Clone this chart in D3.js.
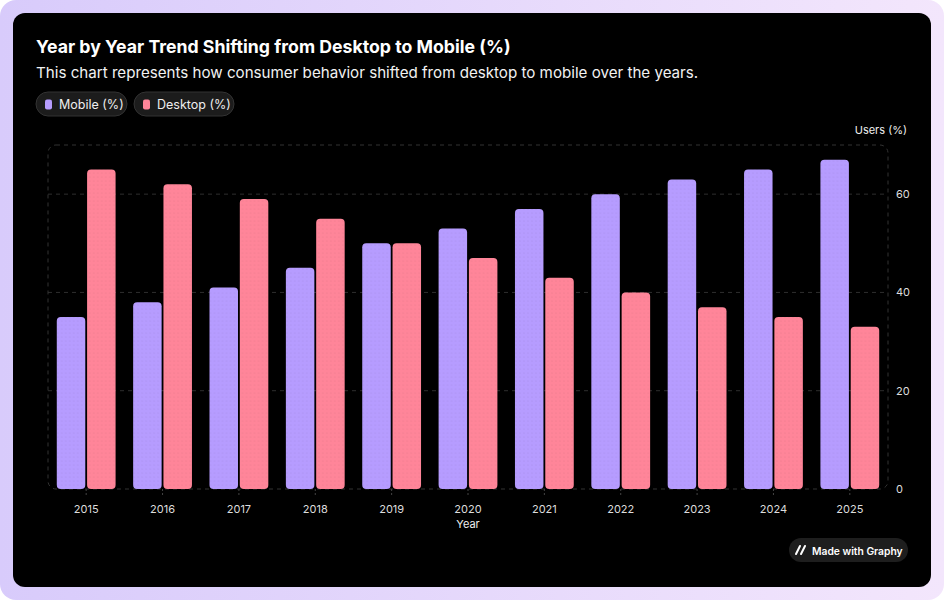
<!DOCTYPE html>
<html>
<head>
<meta charset="utf-8">
<script src="https://cdn.jsdelivr.net/npm/d3@7"></script>
<style>
  html, body { margin: 0; padding: 0; }
  body { width: 944px; height: 600px; overflow: hidden; font-family: Inter, "Noto Sans", sans-serif; }
</style>
</head>
<body>
<div id="chart"></div>
<script>
// chart data
var years = ["2015", "2016", "2017", "2018", "2019", "2020", "2021", "2022", "2023", "2024", "2025"];
var mobile = [35, 38, 41, 45, 50, 53, 57, 60, 63, 65, 67];
var desktop = [65, 62, 59, 55, 50, 47, 43, 40, 37, 35, 33];
var seriesNames = ["Mobile (%)", "Desktop (%)"];
var seriesColors = ["#b69cff", "#ff8599"];
var yTicks = [0, 20, 40, 60];

var W = 944, H = 600;
var plot = {left: 48, right: 888, top: 145, bottom: 489};

var svg = d3.select("#chart").append("svg")
      .attr("width", W)
      .attr("height", H);

var defs = svg.append("defs");
var bg = defs.append("linearGradient").attr("id", "frameGrad")
      .attr("x1", "0").attr("x2", "1").attr("y1", "0").attr("y2", "0");
bg.append("stop").attr("offset", "0").attr("stop-color", "#d8cbfb");
bg.append("stop").attr("offset", "1").attr("stop-color", "#f3e6fc");

// subtle dotted texture on the bars
seriesColors.forEach(function (c, i) {
      var p = defs.append("pattern").attr("id", "tex" + i)
            .attr("width", 4).attr("height", 4)
            .attr("patternUnits", "userSpaceOnUse");
      p.append("rect").attr("width", 4).attr("height", 4).attr("fill", c);
      p.append("circle").attr("cx", 1).attr("cy", 1).attr("r", 0.6)
            .attr("fill", d3.color(c).darker(0.25));
});

// outer frame + black card
svg.append("rect").attr("width", W).attr("height", H).attr("rx", 16).attr("fill", "url(#frameGrad)");
svg.append("rect").attr("x", 13).attr("y", 13).attr("width", 918).attr("height", 574)
      .attr("rx", 12).attr("fill", "#000");

// titles
svg.append("text").attr("x", 36).attr("y", 53)
      .attr("fill", "#fff").attr("font-size", 17.7).attr("font-weight", 700)
      .text("Year by Year Trend Shifting from Desktop to Mobile (%)");
svg.append("text").attr("x", 36).attr("y", 78)
      .attr("fill", "#f2f2f2").attr("font-size", 15.15)
      .text("This chart represents how consumer behavior shifted from desktop to mobile over the years.");

// legend pills
var legX = [36, 134], legW = [91, 100];
seriesNames.forEach(function (name, i) {
      var g = svg.append("g").attr("transform", "translate(" + legX[i] + ",92)");
      g.append("rect").attr("width", legW[i]).attr("height", 24).attr("rx", 12)
            .attr("fill", "#1c1c1c").attr("stroke", "#333").attr("stroke-width", 1);
      g.append("rect").attr("x", 9).attr("y", 7.5).attr("width", 7).attr("height", 10).attr("rx", 2)
            .attr("fill", seriesColors[i]);
      g.append("text").attr("x", 23).attr("y", 16.5).attr("fill", "#eee").attr("font-size", 12.5).text(name);
});

// scales
var x0 = d3.scaleBand().domain(years).range([plot.left, plot.right]).paddingInner(0.23).paddingOuter(0.115);
var x1 = d3.scaleBand().domain([0, 1]).range([0, x0.bandwidth()]).paddingInner(0.06);
var y = d3.scaleLinear().domain([0, 70]).range([plot.bottom, plot.top]);

// grid
svg.append("g").selectAll("line").data(yTicks.filter(function (d) { return d > 0; })).enter()
      .append("line")
      .attr("x1", plot.left).attr("x2", plot.right)
      .attr("y1", function (d) { return y(d); }).attr("y2", function (d) { return y(d); })
      .attr("stroke", "#2e2e2e").attr("stroke-dasharray", "4,4");
svg.append("rect").attr("x", plot.left).attr("y", plot.top)
      .attr("width", plot.right - plot.left).attr("height", plot.bottom - plot.top)
      .attr("rx", 8).attr("fill", "none").attr("stroke", "#333").attr("stroke-dasharray", "4,4");

// bars
var groups = svg.append("g").selectAll("g").data(years).enter().append("g")
      .attr("transform", function (d) { return "translate(" + x0(d) + ",0)"; });
groups.selectAll("rect")
      .data(function (d, i) { return [mobile[i], desktop[i]]; })
      .enter().append("rect")
      .attr("x", function (d, j) { return x1(j); })
      .attr("y", function (d) { return y(d); })
      .attr("width", x1.bandwidth())
      .attr("height", function (d) { return y(0) - y(d); })
      .attr("rx", 4)
      .attr("fill", function (d, j) { return "url(#tex" + j + ")"; });

// x axis
var xAxis = svg.append("g").attr("transform", "translate(0," + plot.bottom + ")")
      .call(d3.axisBottom(x0).tickSize(8).tickPadding(8));
xAxis.select(".domain").remove();
xAxis.selectAll(".tick line").attr("stroke", "#444").attr("stroke-dasharray", "2,2");
xAxis.selectAll(".tick text").attr("fill", "#ddd").attr("font-size", 11).attr("font-family", "Inter, sans-serif");

// y axis on the right
var yAxis = svg.append("g").attr("transform", "translate(" + plot.right + ",0)")
      .call(d3.axisRight(y).tickValues(yTicks).tickSize(0).tickPadding(8));
yAxis.select(".domain").remove();
yAxis.selectAll(".tick text").attr("fill", "#ddd").attr("font-size", 11).attr("font-family", "Inter, sans-serif");

// axis titles
svg.append("text").attr("x", 907).attr("y", 134).attr("text-anchor", "end")
      .attr("fill", "#eee").attr("font-size", 11).text("Users (%)");
svg.append("text").attr("x", (plot.left + plot.right) / 2).attr("y", 528).attr("text-anchor", "middle")
      .attr("fill", "#eee").attr("font-size", 11).text("Year");

// badge
var badge = svg.append("g").attr("transform", "translate(789,538)");
badge.append("rect").attr("width", 119).attr("height", 24).attr("rx", 12).attr("fill", "#1e1e1e");
[0, 5].forEach(function (o) {
      badge.append("line").attr("x1", 7 + o).attr("y1", 16).attr("x2", 11 + o).attr("y2", 8)
            .attr("stroke", "#fff").attr("stroke-width", 2).attr("stroke-linecap", "round");
});
badge.append("text").attr("x", 23).attr("y", 16.5).attr("fill", "#fff")
      .attr("font-size", 10.3).attr("font-weight", 600).text("Made with Graphy");
</script>
</body>
</html>
